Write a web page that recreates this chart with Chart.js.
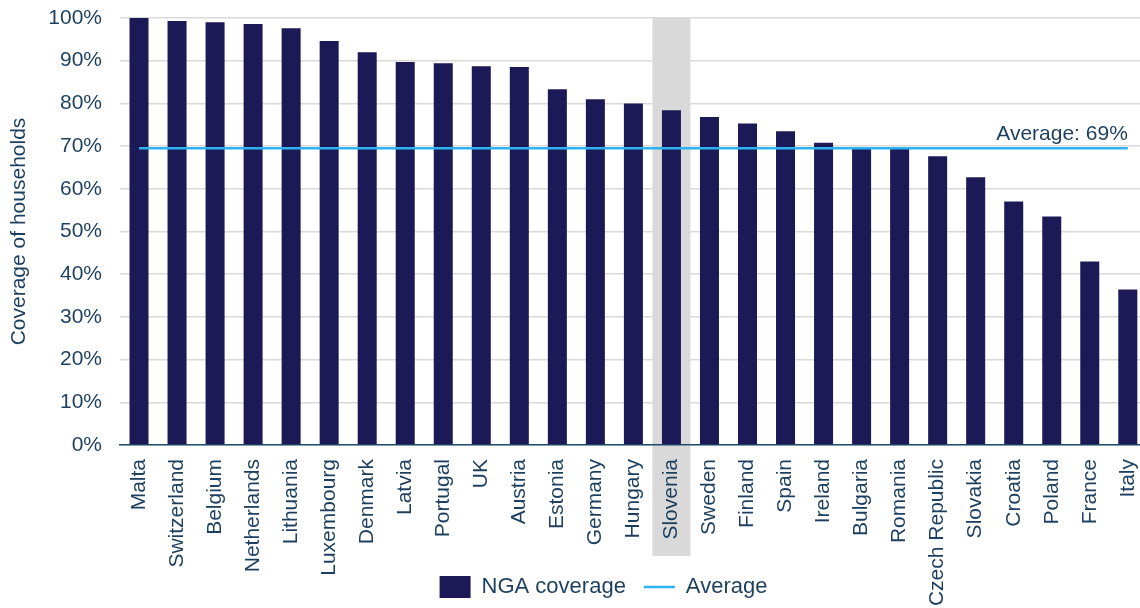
<!DOCTYPE html>
<html>
<head>
<meta charset="utf-8">
<script src="https://cdn.jsdelivr.net/npm/chart.js@4/dist/chart.umd.min.js"></script>
<style>
  html, body { margin: 0; padding: 0; background: #fff; overflow: hidden; }
  #wrap { width: 1140px; height: 608px; overflow: hidden; }
</style>
</head>
<body>
<div id="wrap"><canvas id="myChart" width="1159" height="608"></canvas></div>
<script>
const countries = ['Malta', 'Switzerland', 'Belgium', 'Netherlands', 'Lithuania', 'Luxembourg', 'Denmark',
    'Latvia', 'Portugal', 'UK', 'Austria', 'Estonia', 'Germany', 'Hungary', 'Slovenia', 'Sweden',
    'Finland', 'Spain', 'Ireland', 'Bulgaria', 'Romania', 'Czech Republic', 'Slovakia', 'Croatia',
    'Poland', 'France', 'Italy'];
const ngaCoverage = [100, 99.3, 99.0, 98.6, 97.6, 94.6, 92.0, 89.7, 89.4, 88.7, 88.5, 83.3, 81.0, 80.0,
    78.4, 76.8, 75.3, 73.5, 70.8, 69.5, 69.5, 67.6, 62.7, 57.0, 53.5, 43.0, 36.4];
const averageValue = 69.5;
const averageText = 'Average: 69%';
const highlighted = 'Slovenia';
const yTicks = [0, 10, 20, 30, 40, 50, 60, 70, 80, 90, 100];

const textColor = '#1d3f5f';
const font = { family: '"Liberation Sans", Arial, sans-serif', size: 21 };

// grey band behind the highlighted country
const highlightBand = {
    id: 'highlightBand',
    beforeDraw(chart) {
        const x = chart.scales.x;
        const i = countries.indexOf(highlighted);
        const w = x.width / countries.length;
        const cx = x.getPixelForValue(i);
        const { ctx, chartArea } = chart;
        ctx.save();
        ctx.fillStyle = '#d9d9d9';
        ctx.fillRect(cx - w / 2, chartArea.top, w, chartArea.bottom - chartArea.top + 111);
        ctx.restore();
    }
};

// "Average: 69%" text above the end of the line
const averageLabel = {
    id: 'averageLabel',
    afterDatasetsDraw(chart) {
        const meta = chart.getDatasetMeta(1);
        const last = meta.data[meta.data.length - 1];
        const { ctx } = chart;
        ctx.save();
        ctx.font = font.size + 'px ' + font.family;
        ctx.fillStyle = textColor;
        ctx.textAlign = 'right';
        ctx.textBaseline = 'alphabetic';
        ctx.fillText(averageText, last.x, last.y - 8);
        ctx.restore();
    }
};

// legend sits a bit right of the canvas centre in the original
const legendShift = {
    id: 'legendShift',
    afterLayout(chart) {
        chart.legend.left += 24;
        chart.legend.right += 24;
    }
};

Chart.defaults.font = font;
Chart.defaults.color = textColor;

new Chart(document.getElementById('myChart'), {
    type: 'bar',
    data: {
        labels: countries,
        datasets: [{
            label: 'NGA coverage',
            data: ngaCoverage,
            backgroundColor: '#1c1a56',
            categoryPercentage: 1,
            barPercentage: 0.5,
            pointStyle: 'rect',
            order: 1
        }, {
            type: 'line',
            label: 'Average',
            data: countries.map(() => averageValue),
            borderColor: '#2eb2f2',
            backgroundColor: '#2eb2f2',
            borderWidth: 2.5,
            pointRadius: 0,
            pointStyle: 'line',
            order: 0
        }]
    },
    options: {
        responsive: false,
        animation: false,
        layout: { padding: { left: 0, right: 0, top: 18, bottom: 0 } },
        plugins: {
            tooltip: { enabled: false },
            legend: {
                position: 'bottom',
                labels: {
                    usePointStyle: true,
                    pointStyleWidth: 31,
                    boxHeight: 24,
                    padding: 18,
                    color: textColor,
                    font: { family: font.family, size: 22 },
                    sort: (a, b) => a.datasetIndex - b.datasetIndex
                }
            }
        },
        scales: {
            x: {
                grid: { display: false },
                border: { color: '#1f4e6b', width: 1.5 },
                ticks: { minRotation: 90, maxRotation: 90, autoSkip: false, padding: 6, color: textColor, font: font },
                afterFit(scale) {
                    scale.height = 113;
                    // long labels run into the legend band, as in the original
                    scale._computeLabelArea = () => undefined;
                }
            },
            y: {
                min: 0,
                max: 100,
                afterBuildTicks(scale) { scale.ticks = yTicks.map(v => ({ value: v })); },
                grid: { color: '#d9d9d9', lineWidth: 1.5, drawTicks: false },
                border: { display: false },
                ticks: { padding: 18, color: textColor, font: font, callback: v => v + '%' },
                title: { display: true, text: 'Coverage of households', color: textColor, font: font, padding: { top: 7, bottom: 0 } },
                afterFit(scale) {
                    scale.width = 120;
                    scale.paddingTop = 0;
                    scale.paddingBottom = 0;
                }
            }
        }
    },
    plugins: [highlightBand, averageLabel, legendShift]
});
</script>
</body>
</html>
